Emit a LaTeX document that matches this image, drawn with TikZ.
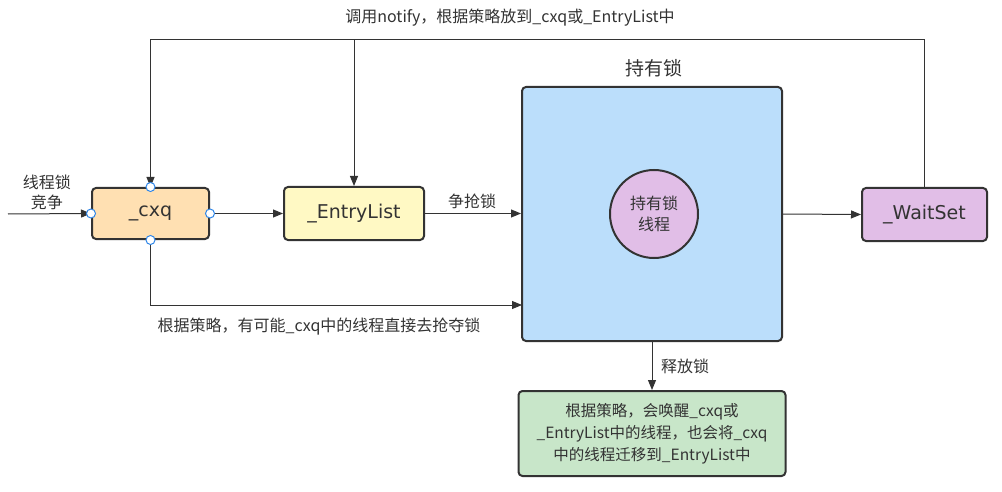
\documentclass[tikz,border=0pt]{standalone}
\usepackage{fontspec}
\setmainfont{Noto Sans CJK SC}
\newfontfamily\boxfont{DejaVu Sans}
\usetikzlibrary{arrows.meta}
\definecolor{ln}{HTML}{333333}
\definecolor{peach}{HTML}{FFE0B2}
\definecolor{lyellow}{HTML}{FFF9C4}
\definecolor{lblue}{HTML}{BBDEFB}
\definecolor{lpurple}{HTML}{E1BEE7}
\definecolor{lgreen}{HTML}{C8E6C9}
\definecolor{dotblue}{HTML}{2F86E8}
\begin{document}
\begin{tikzpicture}[x=1pt,y=-1pt,
  box/.style={draw=ln, line width=2pt, rounded corners=4pt, inner sep=0pt, text=ln, font=\boxfont\fontsize{19}{22}\selectfont},
  arr/.style={draw=ln, line width=1pt, -{Triangle[length=10pt,width=8pt]}},
  lbl/.style={text=ln, font=\fontsize{16}{20}\selectfont, inner sep=1pt, align=center},
  cp/.style={circle, draw=dotblue, fill=white, line width=1pt, inner sep=0pt, minimum size=9pt}]
\useasboundingbox (0,0) rectangle (1002,492);
\fill[white] (0,0) rectangle (1002,492);

\node[box, fill=peach, minimum width=117pt, minimum height=51pt] (cxq) at (150.5,213.5) {\_cxq};
\node[box, fill=lyellow, minimum width=140pt, minimum height=53pt] (entry) at (354,213.5) {\_EntryList};
\node[box, fill=lblue, minimum width=260pt, minimum height=254pt] (big) at (652,214) {};
\node[lbl, font=\fontsize{19}{22}\selectfont] (bigt) at (654,68) {持有锁};
\node[circle, draw=ln, line width=2pt, fill=lpurple, minimum size=88pt, inner sep=0pt, text=ln, align=center, font=\fontsize{16}{21}\selectfont] (thr) at (654,214) {持有锁\\线程};
\node[box, fill=lpurple, minimum width=125pt, minimum height=53pt] (ws) at (924.5,214.5) {\_WaitSet};
\node[box, fill=lgreen, minimum width=267pt, minimum height=85pt, align=center, font=\fontsize{15.5}{22}\selectfont] (rel) at (652,433.5) {根据策略，会唤醒\_cxq或\\\_EntryList中的线程，也会将\_cxq\\中的线程迁移到\_EntryList中};

\coordinate (src) at (8,214);
\coordinate (top) at (0,40);
\coordinate (low) at (522,305);

\draw[arr] (src) -- (cxq.west);
\node[lbl] (l1) at (47,192) {线程锁\\竞争};
\draw[arr] (cxq.east) -- (entry.west);
\draw[arr] (entry.east) -- (entry.east -| big.west);
\node[lbl] (l2) at (472,201) {争抢锁};
\draw[arr] (cxq.south) |- (low);
\node[lbl] (l3) at (319,327) {根据策略，有可能\_cxq中的线程直接去抢夺锁};
\draw[arr] (ws.north) -- (ws.north |- top) -| (cxq.north);
\draw[arr] (entry.north |- top) -- (entry.north);
\node[lbl] (l4) at (510,18) {调用notify，根据策略放到\_cxq或\_EntryList中};
\draw[arr] (big.east) -- (ws.west);
\draw[arr] (big.south) -- (rel.north);
\node[lbl, anchor=west] (l5) at (660,366) {释放锁};

\node[cp] (c1) at (cxq.north) {};
\node[cp] (c2) at (cxq.south) {};
\node[cp] (c3) at (cxq.east) {};
\node[cp] (c4) at (cxq.west) {};
\end{tikzpicture}
\end{document}
